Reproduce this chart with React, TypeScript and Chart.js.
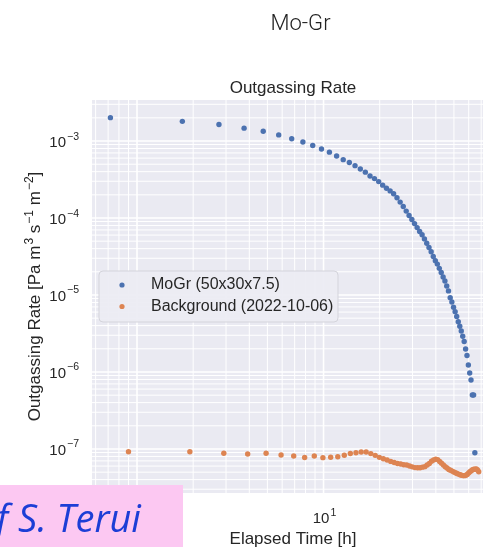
import React, { useEffect, useRef } from 'react';
import { Chart, registerables } from 'chart.js';

Chart.register(...registerables);

// ---- data ----
const moGrTime = [0.72, 1.75, 2.75, 3.75, 4.75, 5.75, 6.75, 7.75, 8.75, 9.75,
  10.75, 11.75, 12.75, 13.75, 14.75, 15.75, 16.75, 17.75, 18.75, 19.75,
  20.75, 21.75, 22.75, 23.75, 24.75, 25.75, 26.75, 27.75, 28.75, 29.75,
  30.75, 31.75, 32.75, 33.75, 34.75, 35.75, 36.75, 37.75, 38.75, 39.75,
  40.75, 41.75, 42.75, 43.75, 44.75, 45.75, 46.75, 47.75, 48.75, 49.75,
  50.75, 51.75, 52.75, 53.75, 54.75, 55.75, 56.75, 57.75, 58.75, 59.75,
  60.75, 61.75, 62.75, 63.75, 64.75];
const moGrRate = [2.01e-3, 1.80e-3, 1.64e-3, 1.47e-3, 1.34e-3, 1.20e-3, 1.07e-3, 9.73e-4, 8.74e-4, 7.89e-4,
  7.17e-4, 6.38e-4, 5.73e-4, 5.27e-4, 4.79e-4, 4.34e-4, 3.94e-4, 3.52e-4, 3.25e-4, 2.97e-4,
  2.67e-4, 2.44e-4, 2.25e-4, 2.07e-4, 1.83e-4, 1.61e-4, 1.41e-4, 1.23e-4, 1.08e-4, 9.57e-5,
  8.46e-5, 7.50e-5, 6.68e-5, 6.05e-5, 5.35e-5, 4.71e-5, 4.14e-5, 3.64e-5, 3.16e-5, 2.79e-5,
  2.52e-5, 2.22e-5, 1.96e-5, 1.71e-5, 1.52e-5, 1.31e-5, 1.13e-5, 9.23e-6, 8.11e-6, 6.92e-6,
  6.08e-6, 5.27e-6, 4.50e-6, 3.92e-6, 3.40e-6, 2.91e-6, 2.49e-6, 1.99e-6, 1.64e-6, 1.23e-6,
  9.70e-7, 7.87e-7, 5.02e-7, 5.02e-7, 8.95e-8];

const bgTime = [0.9, 1.92, 2.92, 3.92, 4.92, 5.92, 6.92, 7.92, 8.92, 9.92,
  10.92, 11.92, 12.92, 13.92, 14.92, 15.92, 16.92, 17.92, 18.92, 19.92,
  20.92, 21.92, 22.92, 23.92, 24.92, 25.92, 26.92, 27.92, 28.92, 29.92,
  30.92, 31.92, 32.92, 33.92, 34.92, 35.92, 36.92, 37.92, 38.92, 39.92,
  40.92, 41.92, 42.92, 43.92, 44.92, 45.92, 46.92, 47.92, 48.92, 49.92,
  50.92, 51.92, 52.92, 53.92, 54.92, 55.92, 56.92, 57.92, 58.92, 59.92,
  60.92, 61.92, 62.92, 63.92, 64.92, 65.92, 66.92, 67.92];
const bgRate = [9.2e-8, 9.2e-8, 8.8e-8, 8.6e-8, 8.8e-8, 8.36e-8, 8.11e-8, 7.76e-8, 8.11e-8, 7.71e-8,
  7.80e-8, 7.94e-8, 8.28e-8, 8.75e-8, 8.95e-8, 9.14e-8, 9.14e-8, 8.71e-8, 8.26e-8, 7.78e-8,
  7.46e-8, 7.18e-8, 6.90e-8, 6.68e-8, 6.48e-8, 6.37e-8, 6.25e-8, 6.19e-8, 6.01e-8, 5.86e-8,
  5.73e-8, 5.71e-8, 5.71e-8, 5.81e-8, 5.89e-8, 6.19e-8, 6.48e-8, 6.92e-8, 7.20e-8, 7.38e-8,
  7.28e-8, 6.89e-8, 6.54e-8, 6.19e-8, 5.87e-8, 5.65e-8, 5.42e-8, 5.29e-8, 5.16e-8, 5.04e-8,
  4.91e-8, 4.81e-8, 4.72e-8, 4.62e-8, 4.55e-8, 4.51e-8, 4.50e-8, 4.55e-8, 4.66e-8, 4.88e-8,
  5.06e-8, 5.21e-8, 5.37e-8, 5.45e-8, 5.48e-8, 5.50e-8, 5.33e-8, 5.07e-8];

const seriesLabels = ['MoGr (50x30x7.5)', 'Background (2022-10-06)'];
const seriesColors = ['#4C72B0', '#DD8452'];
const xTickExponents = [0, 1];
const yTickExponents = [-7, -6, -5, -4, -3];
const suptitleText = 'Mo-Gr';
const titleText = 'Outgassing Rate';
const xLabelText = 'Elapsed Time [h]';
const creditText = 'of S. Terui';

const SANS = '"Liberation Sans", Arial, Helvetica, sans-serif';
const TEXT = '#262626';

function drawPow(ctx: CanvasRenderingContext2D, exp: number, x: number, baseline: number, align: 'right' | 'center') {
  const base = '10';
  const sup = exp < 0 ? '\u2212' + String(-exp) : String(exp);
  ctx.font = `15px ${SANS}`;
  const wb = ctx.measureText(base).width;
  ctx.font = `10.5px ${SANS}`;
  const ws = ctx.measureText(sup).width;
  const gap = 1;
  const total = wb + gap + ws;
  const x0 = align === 'right' ? x - total : x - total / 2;
  ctx.textAlign = 'left';
  ctx.textBaseline = 'alphabetic';
  ctx.fillStyle = TEXT;
  ctx.font = `15px ${SANS}`;
  ctx.fillText(base, x0, baseline);
  ctx.font = `10.5px ${SANS}`;
  ctx.fillText(sup, x0 + wb + gap, baseline - 7.5);
}

const customPlugin = {
  id: 'customDraw',
  beforeDraw(chart: any) {
    const { ctx, chartArea: a, scales } = chart;
    ctx.save();
    ctx.fillStyle = '#ffffff';
    ctx.fillRect(0, 0, chart.width, chart.height);
    ctx.fillStyle = '#EAEAF2';
    ctx.fillRect(a.left, a.top, a.right - a.left, a.bottom - a.top);
    ctx.beginPath();
    ctx.rect(a.left, a.top, a.right - a.left, a.bottom - a.top);
    ctx.clip();
    ctx.strokeStyle = '#ffffff';
    for (let e = -9; e <= 3; e++) {
      for (let m = 1; m <= 9; m++) {
        const v = m * Math.pow(10, e);
        const lw = m === 1 ? 1.6 : 1.0;
        const px = scales.x.getPixelForValue(v);
        if (px >= a.left - 2 && px <= a.right + 2) {
          ctx.lineWidth = lw;
          ctx.beginPath();
          ctx.moveTo(px, a.top);
          ctx.lineTo(px, a.bottom);
          ctx.stroke();
        }
        const py = scales.y.getPixelForValue(v);
        if (py >= a.top - 2 && py <= a.bottom + 2) {
          ctx.lineWidth = lw;
          ctx.beginPath();
          ctx.moveTo(a.left, py);
          ctx.lineTo(a.right, py);
          ctx.stroke();
        }
      }
    }
    ctx.restore();
  },
  afterDatasetsDraw(chart: any) {
    const { ctx } = chart;
    ctx.save();
    // legend box
    const bx = 99, by = 271, bw = 239, bh = 51, r = 4;
    ctx.beginPath();
    ctx.moveTo(bx + r, by);
    ctx.lineTo(bx + bw - r, by);
    ctx.quadraticCurveTo(bx + bw, by, bx + bw, by + r);
    ctx.lineTo(bx + bw, by + bh - r);
    ctx.quadraticCurveTo(bx + bw, by + bh, bx + bw - r, by + bh);
    ctx.lineTo(bx + r, by + bh);
    ctx.quadraticCurveTo(bx, by + bh, bx, by + bh - r);
    ctx.lineTo(bx, by + r);
    ctx.quadraticCurveTo(bx, by, bx + r, by);
    ctx.closePath();
    ctx.fillStyle = 'rgba(236,236,243,0.92)';
    ctx.fill();
    ctx.strokeStyle = '#D4D4DB';
    ctx.lineWidth = 1;
    ctx.stroke();
    const rows = [285, 306.5];
    seriesLabels.forEach((lab, i) => {
      ctx.fillStyle = seriesColors[i];
      ctx.beginPath();
      ctx.arc(122, rows[i], 2.6, 0, Math.PI * 2);
      ctx.fill();
      ctx.fillStyle = TEXT;
      ctx.font = `16px ${SANS}`;
      ctx.textAlign = 'left';
      ctx.textBaseline = 'middle';
      ctx.fillText(lab, 151, rows[i]);
    });
    ctx.restore();
  },
  afterDraw(chart: any) {
    const { ctx, chartArea: a, scales } = chart;
    ctx.save();
    // y tick labels
    yTickExponents.forEach((e) => {
      const py = scales.y.getPixelForValue(Math.pow(10, e));
      drawPow(ctx, e, 79, py + 6, 'right');
    });
    // x tick labels
    xTickExponents.forEach((e) => {
      const px = scales.x.getPixelForValue(Math.pow(10, e));
      drawPow(ctx, e, px + 1, 523, 'center');
    });
    const cx = (a.left + a.right) / 2;
    // x axis label
    ctx.fillStyle = TEXT;
    ctx.font = `17px ${SANS}`;
    ctx.textAlign = 'center';
    ctx.textBaseline = 'alphabetic';
    ctx.fillText(xLabelText, cx, 544);
    // axes title
    ctx.fillText(titleText, cx, 93);
    // y axis label with superscripts
    const segs: [string, boolean][] = [
      ['Outgassing Rate [Pa m', false], ['3', true], [' s', false], ['\u22121', true],
      [' m', false], ['\u22122', true], [']', false],
    ];
    const fontN = `17px ${SANS}`;
    const fontS = `12px ${SANS}`;
    let total = 0;
    const widths = segs.map(([t, s]) => {
      ctx.font = s ? fontS : fontN;
      const w = ctx.measureText(t).width + (s ? 1 : 0);
      total += w;
      return w;
    });
    ctx.translate(34, (a.top + a.bottom) / 2);
    ctx.rotate(-Math.PI / 2);
    let xx = -total / 2;
    ctx.textAlign = 'left';
    ctx.textBaseline = 'alphabetic';
    segs.forEach(([t, s], i) => {
      ctx.font = s ? fontS : fontN;
      ctx.fillText(t, xx + (s ? 1 : 0), s ? -1 : 6);
      xx += widths[i];
    });
    ctx.setTransform(1, 0, 0, 1, 0, 0);
    // suptitle
    ctx.fillStyle = '#222222';
    ctx.font = `300 22px Roboto, "Noto Sans", sans-serif`;
    ctx.textAlign = 'center';
    ctx.fillText(suptitleText, 300.5, 30);
    // credit box
    ctx.fillStyle = 'rgb(252,200,242)';
    ctx.fillRect(0, 485, 183, 62);
    ctx.fillStyle = 'rgb(28,62,214)';
    ctx.font = `italic 38px "Open Sans", Lato, sans-serif`;
    ctx.textAlign = 'left';
    const wOf = ctx.measureText('of ').width;
    ctx.fillText(creditText, 18 - wOf, 532);
    ctx.restore();
  },
};

export default function App() {
  const ref = useRef<HTMLCanvasElement | null>(null);
  useEffect(() => {
    if (!ref.current) return;
    const chart = new Chart(ref.current, {
      type: 'scatter',
      data: {
        datasets: [
          {
            label: seriesLabels[0],
            data: moGrTime.map((t, i) => ({ x: t, y: moGrRate[i] })),
            backgroundColor: seriesColors[0],
            borderColor: seriesColors[0],
            pointRadius: 2.7,
            pointBorderWidth: 0,
            pointHoverRadius: 2.7,
          },
          {
            label: seriesLabels[1],
            data: bgTime.map((t, i) => ({ x: t, y: bgRate[i] })),
            backgroundColor: seriesColors[1],
            borderColor: seriesColors[1],
            pointRadius: 2.7,
            pointBorderWidth: 0,
            pointHoverRadius: 2.7,
          },
        ],
      },
      options: {
        animation: false,
        responsive: false,
        devicePixelRatio: 1,
        events: [],
        layout: { padding: { top: 100, left: 0, right: 6, bottom: 0 } },
        plugins: { legend: { display: false }, title: { display: false }, tooltip: { enabled: false } },
        scales: {
          x: {
            type: 'logarithmic',
            min: 0.5737,
            max: 82,
            grid: { display: false },
            border: { display: false },
            ticks: { display: false },
            afterFit: (s: any) => { s.height = 54; },
          },
          y: {
            type: 'logarithmic',
            min: 2.68e-8,
            max: 3.41e-3,
            grid: { display: false },
            border: { display: false },
            ticks: { display: false },
            afterFit: (s: any) => { s.width = 92; },
          },
        },
      },
      plugins: [customPlugin],
    } as any);
    return () => chart.destroy();
  }, []);
  return (
    <div style={{ position: 'fixed', left: 0, top: 0, width: 483, height: 547, overflow: 'hidden', background: '#fff' }}>
      <canvas ref={ref} width={500} height={547} style={{ display: 'block', width: 500, height: 547 }} />
    </div>
  );
}
